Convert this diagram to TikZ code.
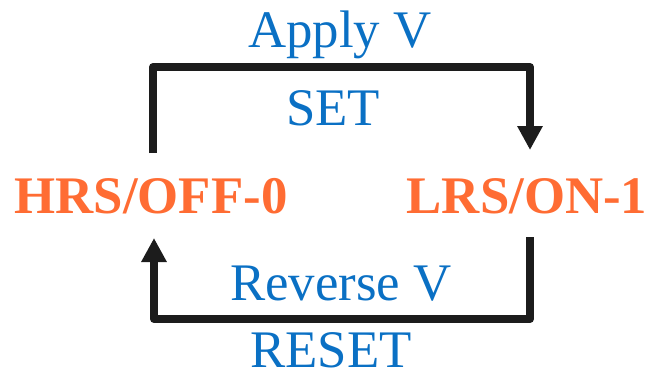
\documentclass[tikz,border=0pt]{standalone}
\usepackage{fontspec}
\setmainfont{Liberation Serif}
\usetikzlibrary{arrows.meta}
\definecolor{stateorange}{HTML}{FF6C33}
\definecolor{labelblue}{HTML}{0A70C4}
\definecolor{lineblack}{HTML}{1C1C1C}
\begin{document}
\begin{tikzpicture}[x=1bp,y=1bp,
  statelbl/.style={font=\fontsize{53}{53}\selectfont\bfseries, text=stateorange, inner sep=0pt, anchor=base},
  edgelbl/.style={font=\fontsize{53}{53}\selectfont, text=labelblue, inner sep=0pt, anchor=base},
  loopline/.style={draw=lineblack, line width=8bp, line join=round, -{Triangle[width=24bp,length=24bp]}}]
\useasboundingbox (0,0) rectangle (648,373);
% states
\node[statelbl] (hrs) at (151,160) {HRS/OFF-0};
\node[statelbl] (lrs) at (527,160) {LRS/ON-1};
% labels
\node[edgelbl] (apply) at (340,326) {Apply V};
\node[edgelbl] (set) at (333,248) {SET};
\node[edgelbl] (rev) at (341,73) {Reverse V};
\node[edgelbl] (reset) at (331,6) {RESET};
% connector end points
\coordinate (setstart) at (153,220);
\coordinate (setend) at (530,223);
\coordinate (resetstart) at (530,136);
\coordinate (resetend) at (154,135);
% connectors
\draw[loopline] (setstart) |- (342,306) -| (setend);
\draw[loopline] (resetstart) |- (342,54) -| (resetend);
\end{tikzpicture}
\end{document}
